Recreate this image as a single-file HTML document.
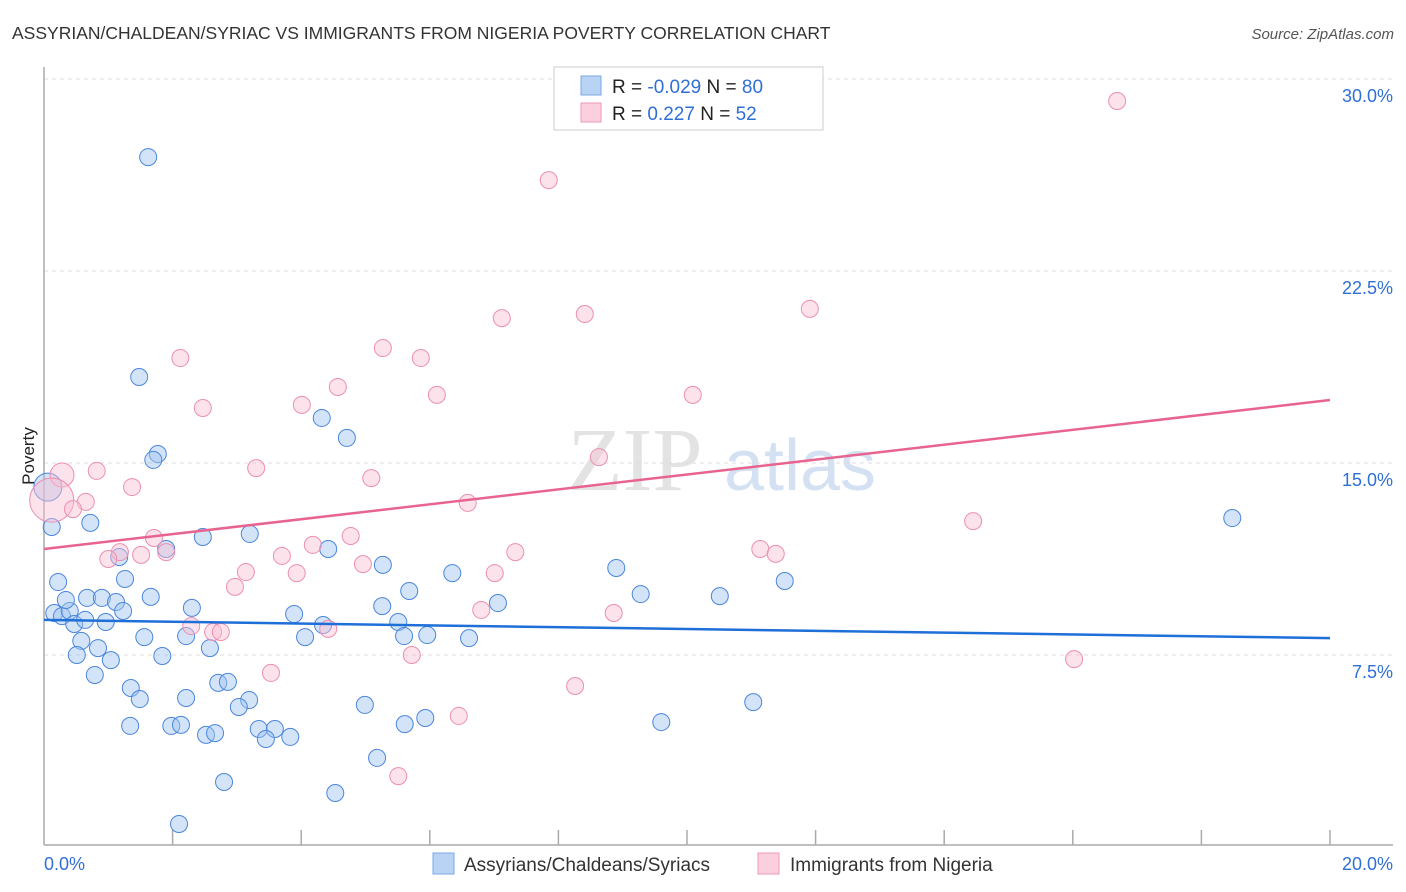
<!DOCTYPE html>
<html><head><meta charset="utf-8"><style>
body{margin:0;background:#fff;font-family:"Liberation Sans",sans-serif}
svg{display:block}
</style></head><body>
<svg id="chart" width="1406" height="892" viewBox="0 0 1406 892">
<text x="12" y="39" font-size="17.5" fill="#333">ASSYRIAN/CHALDEAN/SYRIAC VS IMMIGRANTS FROM NIGERIA POVERTY CORRELATION CHART</text>
<text x="1394" y="39" font-size="15" fill="#555" font-style="italic" text-anchor="end">Source: ZipAtlas.com</text>
<g>
<text x="635" y="490" font-size="90" fill="#ddd" text-anchor="middle" font-family="Liberation Serif,serif" opacity="0.8">ZIP</text>
<text x="800" y="490" font-size="72" fill="#c9daf0" text-anchor="middle" opacity="0.8">atlas</text>
</g>
<g id="grid"></g>
<g id="axes"></g>
<g id="marks"></g>
<g id="trend"></g>
<text transform="translate(34,456) rotate(-90)" font-size="17" fill="#222" text-anchor="middle">Poverty</text>
<g>
<rect x="554" y="67" width="269" height="63" fill="#fff" stroke="#ccc"/>
<rect x="581" y="76" width="20" height="19" fill="#b9d3f5" stroke="#7aa7e6"/>
<rect x="581" y="103" width="20" height="19" fill="#fbcfdd" stroke="#ef9ab6"/>
<text x="612" y="93" font-size="19" fill="#222">R = <tspan fill="#2f6fd6">-0.029</tspan>   N = <tspan fill="#2f6fd6">80</tspan></text>
<text x="612" y="120" font-size="19" fill="#222">R =  <tspan fill="#2f6fd6"> 0.227</tspan>   N =  <tspan fill="#2f6fd6">52</tspan></text>
</g>
<g>
<rect x="433" y="853" width="21" height="21" fill="#b9d3f5" stroke="#7aa7e6"/>
<text x="464" y="871" font-size="19" fill="#333">Assyrians/Chaldeans/Syriacs</text>
<rect x="758" y="853" width="21" height="21" fill="#fbcfdd" stroke="#ef9ab6"/>
<text x="790" y="871" font-size="19" fill="#333">Immigrants from Nigeria</text>
</g>
</svg>
<script>
const xTickLabels=["0.0%","20.0%"];
const yTicks=[7.5,15,22.5,30];
const yTickLabels=["7.5%","15.0%","22.5%","30.0%"];
const blueX=[1.62,1.48,1.77,1.70,4.32,4.71,0.06,0.12,0.72,2.47,3.20,1.90,1.17,4.42,5.27,0.22,1.26,8.90,6.35,5.68,0.16,0.28,0.40,0.34,0.67,0.90,1.12,1.66,1.23,2.30,3.89,5.26,7.06,9.28,10.51,11.52,18.48,0.47,0.64,0.96,0.58,0.84,0.51,1.04,1.56,2.21,2.58,4.06,4.34,5.51,5.60,5.96,6.61,1.84,0.79,1.35,1.49,2.21,2.71,2.86,3.19,3.03,4.99,1.34,1.98,2.13,2.52,2.66,3.34,3.59,3.45,3.83,5.61,5.93,9.60,11.03,5.18,2.80,4.53,2.10];
const blueY=[26.95,18.36,15.35,15.12,16.76,15.98,14.06,12.5,12.66,12.11,12.23,11.64,11.33,11.64,11.02,10.35,10.47,10.90,10.70,10.0,9.14,9.02,9.22,9.65,9.73,9.73,9.57,9.77,9.22,9.34,9.10,9.41,9.53,9.88,9.80,10.39,12.85,8.71,8.87,8.79,8.05,7.77,7.5,7.30,8.20,8.24,7.77,8.20,8.67,8.79,8.24,8.28,8.16,7.46,6.72,6.21,5.78,5.82,6.41,6.45,5.74,5.47,5.55,4.73,4.73,4.77,4.38,4.45,4.61,4.61,4.22,4.30,4.80,5.04,4.88,5.66,3.48,2.54,2.11,0.90];
const blueR=[8.5,8.5,8.5,8.5,8.5,8.5,14];
const pinkX=[16.69,7.85,7.12,8.41,11.91,2.12,5.27,5.86,4.57,6.11,10.09,2.47,4.01,0.28,0.82,3.30,5.09,8.63,1.37,0.12,0.65,0.45,6.59,14.45,1.71,4.77,4.18,1.18,1.51,1.90,1.0,7.33,11.14,11.38,3.70,4.96,3.14,3.93,7.01,2.97,6.80,8.86,2.29,2.63,2.75,4.42,5.72,16.02,3.53,8.26,6.45,5.51];
const pinkY=[29.14,26.05,20.66,20.82,21.02,19.10,19.49,19.10,17.97,17.66,17.66,17.15,17.27,14.53,14.69,14.80,14.41,15.23,14.06,13.55,13.48,13.20,13.44,12.73,12.07,12.15,11.80,11.52,11.41,11.52,11.25,11.52,11.64,11.45,11.37,11.05,10.74,10.70,10.70,10.16,9.26,9.14,8.63,8.40,8.40,8.52,7.5,7.34,6.80,6.29,5.12,2.77];
const pinkBig={13:12,19:22};
const blueTrend=[8.87,8.16];
const pinkTrend=[11.64,17.46];
const NS="http://www.w3.org/2000/svg";
const X0=44,X1=1330,Y0=847,PPU=25.6;
const xs=v=>X0+v/20*(X1-X0);
const ys=v=>Y0-v*PPU;
function mk(tag,attrs,parent){const e=document.createElementNS(NS,tag);for(const k in attrs)e.setAttribute(k,attrs[k]);parent.appendChild(e);return e;}
const grid=document.getElementById('grid'),axes=document.getElementById('axes'),marks=document.getElementById('marks'),trend=document.getElementById('trend');
yTicks.forEach((t,i)=>{
 const l=mk('line',{x1:X0,x2:1393,y1:ys(t),y2:ys(t),stroke:'#ddd','stroke-dasharray':'4,4'},grid);
 
 
 const tx=mk('text',{x:1393,y:ys(t)+23,'font-size':18,fill:'#2f6fd6','text-anchor':'end'},grid);
 tx.textContent=yTickLabels[i];
 
 
});
const ya=mk('line',{x1:X0,x2:X0,y1:67,y2:845,stroke:'#aaa','stroke-width':1.5},axes);


const xa=mk('line',{x1:X0,x2:1393,y1:845,y2:845,stroke:'#aaa','stroke-width':1.5},axes);


for(let i=1;i<=10;i++){
 const t=mk('line',{x1:xs(i*2),x2:xs(i*2),y1:830,y2:845,stroke:'#aaa','stroke-width':1.5},axes);
 
 
}
[[0,'start',xTickLabels[0]],[20,'end',xTickLabels[1]]].forEach(([v,a,s])=>{
 const t=mk('text',{x:v===0?44:1393,y:870,'font-size':18,fill:'#2f6fd6','text-anchor':a},axes);
 t.textContent=s;
 
 
});
blueX.forEach((x,i)=>{
 const c=mk('circle',{cx:xs(x),cy:ys(blueY[i]),r:blueR[i]||8.5,fill:'rgba(160,195,240,0.45)',stroke:'#4a86dc','stroke-width':1},marks);
 
 
});
pinkX.forEach((x,i)=>{
 const c=mk('circle',{cx:xs(x),cy:ys(pinkY[i]),r:pinkBig[i]||8.5,fill:'rgba(248,190,210,0.45)',stroke:'#ec8fb0','stroke-width':1},marks);
 
 
});
const bt=mk('line',{x1:xs(0),x2:xs(20),y1:ys(blueTrend[0]),y2:ys(blueTrend[1]),stroke:'#1f6fd8','stroke-width':2.5},trend);


const pt=mk('line',{x1:xs(0),x2:xs(20),y1:ys(pinkTrend[0]),y2:ys(pinkTrend[1]),stroke:'#e8648f','stroke-width':2.5},trend);


</script>
</body></html>
